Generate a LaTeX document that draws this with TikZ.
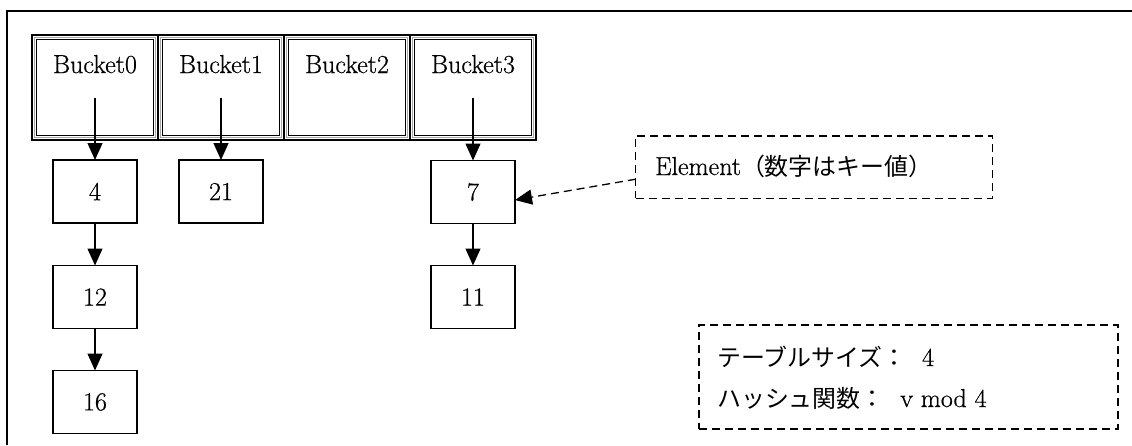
\documentclass[tikz,border=0pt]{standalone}
\usepackage{fontspec}
\setmainfont{Latin Modern Roman}[FakeBold=0.6]
\newfontfamily\jp[Scale=0.92]{Noto Sans CJK JP}
\usetikzlibrary{arrows.meta}
\begin{document}
\begin{tikzpicture}[x=1pt,y=-1pt,
  font=\fontsize{26}{31}\selectfont,
  frameline/.style={line width=1.3pt},
  bucket/.style={draw, line width=1.3pt, minimum width=126pt, minimum height=105pt, inner sep=0pt, outer sep=0pt},
  bucketin/.style={draw, line width=1.3pt},
  bucketmid/.style={draw=black!35, line width=0.9pt},
  elem/.style={draw, line width=1.3pt, minimum width=84pt, minimum height=63pt, inner sep=0pt, outer sep=0pt},
  note/.style={draw, line width=1.3pt, dash pattern=on 8pt off 5pt, inner sep=0pt, outer sep=0pt},
  label/.style={inner sep=0pt, anchor=base},
  link/.style={line width=1.3pt, -{Triangle[length=17pt,width=15pt]}},
  pointer/.style={line width=1.3pt, dash pattern=on 8pt off 5pt, -{Triangle[length=17pt,width=15pt]}}
]
\useasboundingbox (0,0) rectangle (1132,445);

% open outer frame (top and left edges only)
\draw[frameline] (7,445) -- (7,11) -- (1132,11);

% bucket table
\foreach \i/\x in {0/95,1/221,2/347,3/473}{
  \node[bucket] (b\i) at (\x,87.5) {};
  \draw[bucketmid] ([shift={(2.2,2.2)}]b\i.north west) rectangle ([shift={(-2.2,-2.2)}]b\i.south east);
  \draw[bucketin] ([shift={(4.4,4.4)}]b\i.north west) rectangle ([shift={(-4.4,-4.4)}]b\i.south east);
  \node[label] (t\i) at (\x,73) {Bucket\i};
}

% chain elements
\node[elem] (e4)  at (95,191.5)  {4};
\node[elem] (e12) at (95,297)    {12};
\node[elem] (e16) at (95,402)    {16};
\node[elem] (e21) at (221,191.5) {21};
\node[elem] (e7)  at (473,192)   {7};
\node[elem] (e11) at (473,297)   {11};

% links
\draw[link] ([yshift=-10.5pt]b0.center) -- (e4.north);
\draw[link] ([yshift=-10.5pt]b1.center) -- (e21.north);
\draw[link] ([yshift=-10.5pt]b3.center) -- (e7.north);
\draw[link] (e4.south) -- (e12.north);
\draw[link] (e12.south) -- (e16.north);
\draw[link] (e7.south) -- (e11.north);

% callout for an element
\node[note, minimum width=357pt, minimum height=62.5pt] (callout) at (814.2,167.2) {};
\node[inner sep=0pt, anchor=base west] (callouttext) at (655,175) {Element{\jp（数字はキー値）}};
\draw[pointer] ([yshift=-12pt]callout.west) -- ([yshift=-8pt]e7.east);

% table parameters
\node[note, minimum width=419pt, minimum height=104pt] (params) at (908.5,377) {};
\node[inner sep=0pt, anchor=base west] (size) at (717,366) {{\jp テーブルサイズ：}\ \ 4};
\node[inner sep=0pt, anchor=base west] (hash) at (717,407) {{\jp ハッシュ関数：}\ \ v mod 4};
\end{tikzpicture}
\end{document}
